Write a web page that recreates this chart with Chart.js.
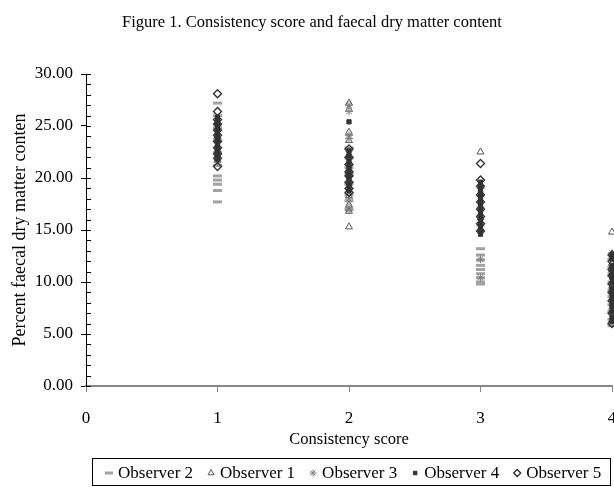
<!DOCTYPE html>
<html lang="en">
<head>
<meta charset="UTF-8">
<title>Figure 1. Consistency score and faecal dry matter content</title>
<script src="https://cdn.jsdelivr.net/npm/chart.js@4.4.1/dist/chart.umd.min.js"></script>
<style>
  html, body { margin: 0; padding: 0; background: #fff; }
</style>
</head>
<body>
<canvas id="chart" width="614" height="487"></canvas>
<script>
// consistency scores on the x axis
var scores = [1, 2, 3, 4];

// faecal dry matter (%), one list per score
var obs2 = [
  [17.7, 18.8, 19.4, 19.8, 20.2, 21.2, 22.4, 23.6, 24.8, 26.0, 27.2],
  [22.9, 21.9, 21.0, 20.4, 19.4, 18.4, 17.8, 17.0],
  [13.2, 12.6, 12.1, 11.6, 11.2, 10.8, 10.4, 10.0, 9.8],
  [12.2, 11.4, 10.8, 10.0, 9.2, 8.6, 7.8, 7.2, 6.4, 5.8]
];
var obs1 = [
  [25.3, 24.0, 22.7, 21.8],
  [27.2, 26.6, 24.4, 23.6, 22.2, 20.6, 18.3, 17.4, 16.8, 15.3],
  [22.5, 18.4, 16.2, 15.0],
  [14.8, 11.8, 9.6]
];
var obs3 = [
  [25.0, 23.8, 22.5, 21.5],
  [27.0, 26.4, 24.1, 23.8, 22.6, 21.4, 19.6, 18.0, 17.2, 16.9],
  [19.0, 17.2, 15.4, 12.2, 10.4],
  [12.8, 11.0, 9.0, 7.4, 6.2]
];
var obs4 = [
  [25.8, 25.4, 25.1, 24.7, 24.4, 24.0, 23.7, 23.3, 23.0, 22.6, 22.3, 21.9],
  [25.4, 22.6, 22.1, 21.6, 21.2, 20.8, 20.3, 20.0, 19.5, 19.2, 18.8],
  [19.6, 19.2, 18.8, 18.4, 18.1, 17.7, 17.4, 17.0, 16.7, 16.3, 16.0, 15.6, 15.3, 14.9, 14.6],
  [12.6, 12.2, 11.6, 11.2, 10.7, 10.4, 9.9, 9.4, 8.9, 8.4, 8.0, 7.6, 7.1, 6.6, 6.2]
];
var obs5 = [
  [28.1, 26.4, 25.6, 25.2, 24.6, 24.1, 23.5, 22.9, 22.3, 21.9, 21.1],
  [22.8, 22.0, 21.3, 20.6, 20.2, 19.6, 19.0, 18.6],
  [21.4, 19.8, 19.2, 18.4, 17.7, 17.0, 16.3, 15.6, 14.9],
  [12.6, 12.0, 11.2, 10.6, 9.8, 9.0, 8.2, 7.0, 6.0]
];

var yTicks = [0, 5, 10, 15, 20, 25, 30];

var FONT = "'Liberation Serif', 'Times New Roman', serif";

function toPoints(lists) {
  var pts = [];
  for (var i = 0; i < scores.length; i++) {
    for (var j = 0; j < lists[i].length; j++) {
      pts.push({ x: scores[i], y: lists[i][j] });
    }
  }
  return pts;
}

function series(label, lists, style, color, radius, width, fill, order) {
  return {
    label: label,
    data: toPoints(lists),
    pointStyle: style,
    pointRadius: radius,
    pointHoverRadius: radius,
    pointBorderWidth: width,
    borderColor: color,
    backgroundColor: fill,
    showLine: false,
    clip: false,
    order: order
  };
}

// title, minor ticks and the boxed legend
var extras = {
  id: 'extras',
  afterDraw: function(chart) {
    var ctx = chart.ctx;
    var area = chart.chartArea;
    var ys = chart.scales.y;
    ctx.save();

    ctx.fillStyle = '#000';
    ctx.font = '16.5px ' + FONT;
    ctx.textAlign = 'center';
    ctx.textBaseline = 'middle';
    ctx.fillText('Figure 1. Consistency score and faecal dry matter content', 312, 23);

    ctx.strokeStyle = '#000';
    ctx.lineWidth = 1;
    ctx.beginPath();
    for (var v = ys.min; v <= ys.max; v++) {
      var py = Math.round(ys.getPixelForValue(v)) + 0.5;
      ctx.moveTo(area.left, py);
      ctx.lineTo(area.left + 5, py);
    }
    ctx.stroke();

    // legend
    ctx.strokeStyle = '#000';
    ctx.lineWidth = 1;
    ctx.strokeRect(92.5, 458.5, 518, 27);
    ctx.font = '17px ' + FONT;
    ctx.textAlign = 'left';
    var lx = 109, ly = 473;
    chart.data.datasets.forEach(function(ds) {
      ctx.strokeStyle = ds.borderColor;
      ctx.fillStyle = ds.backgroundColor;
      ctx.lineWidth = ds.pointBorderWidth;
      Chart.helpers.drawPoint(ctx, {
        pointStyle: ds.pointStyle,
        radius: ds.pointRadius - 0.5,
        borderWidth: ds.pointBorderWidth,
        rotation: 0
      }, lx, ly);
      ctx.fillStyle = '#000';
      ctx.fillText(ds.label, lx + 9, ly + 1);
      lx += 9 + ctx.measureText(ds.label).width + 18;
    });
    ctx.restore();
  }
};

var chart = new Chart(document.getElementById('chart'), {
  type: 'scatter',
  data: {
    datasets: [
      series('Observer 2', obs2, 'line', '#a3a3a3', 4.5, 3, '#a3a3a3', 5),
      series('Observer 1', obs1, 'triangle', '#555555', 4, 1, 'rgba(0,0,0,0)', 4),
      series('Observer 3', obs3, 'star', '#808080', 4, 1, 'rgba(0,0,0,0)', 3),
      series('Observer 4', obs4, 'rect', '#333333', 3, 1, '#333333', 2),
      series('Observer 5', obs5, 'rectRot', '#333333', 4, 1.4, 'rgba(0,0,0,0)', 1)
    ]
  },
  options: {
    responsive: false,
    animation: false,
    events: [],
    layout: { autoPadding: false, padding: { top: 74, left: 0, right: 2, bottom: 37 } },
    plugins: {
      legend: { display: false },
      title: { display: false },
      tooltip: { enabled: false }
    },
    scales: {
      x: {
        type: 'linear',
        min: 0,
        max: 4,
        afterFit: function(s) { s.height = 64; s.paddingLeft = 0; s.paddingRight = 0; },
        border: { color: '#888888', width: 2 },
        grid: { drawOnChartArea: false, tickLength: 6, color: '#888888' },
        ticks: { stepSize: 1, padding: 16, color: '#000', font: { family: FONT, size: 17 } },
        title: {
          display: true,
          text: 'Consistency score',
          color: '#000',
          font: { family: FONT, size: 16.5 },
          padding: { top: 0, bottom: 0 }
        }
      },
      y: {
        min: 0,
        max: 30,
        afterFit: function(s) { s.width = 86; },
        afterBuildTicks: function(s) { s.ticks = yTicks.map(function(v) { return { value: v }; }); },
        border: { color: '#000', width: 1 },
        grid: { drawOnChartArea: false, tickLength: 5, color: '#000' },
        ticks: {
          padding: 8,
          color: '#000',
          font: { family: FONT, size: 17 },
          callback: function(v) { return Number(v).toFixed(2); }
        },
        title: {
          display: true,
          text: 'Percent faecal dry matter conten',
          color: '#000',
          font: { family: FONT, size: 18 },
          padding: { top: 9, bottom: 0 }
        }
      }
    }
  },
  plugins: [extras]
});
</script>
</body>
</html>
